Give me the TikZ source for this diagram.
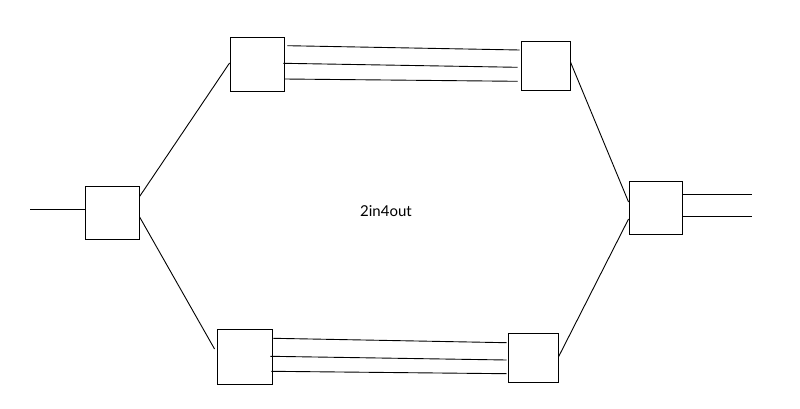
\documentclass[tikz,border=0pt]{standalone}
\usepackage{fontspec}
\setmainfont{Lato}
\begin{document}
\begin{tikzpicture}[x=1pt,y=1pt,
  blk/.style={draw=black,line width=0.9pt,fill=white,inner sep=0pt},
  wire/.style={draw=black,line width=0.9pt}]
\useasboundingbox (0,0) rectangle (800,408);
\node[blk,minimum width=54pt,minimum height=53pt] (L) at (112,195.5) {};
\node[blk,minimum width=54pt,minimum height=54pt] (tl) at (257,344) {};
\node[blk,minimum width=49pt,minimum height=49pt] (tr) at (545.5,342.5) {};
\node[blk,minimum width=55pt,minimum height=55pt] (bl) at (244.5,51.5) {};
\node[blk,minimum width=50pt,minimum height=49pt] (br) at (533,50.5) {};
\node[blk,minimum width=53pt,minimum height=53pt] (R) at (655.5,200.5) {};
\node[font=\fontsize{15}{17}\selectfont] (lbl) at (386,197) {2in4out};
\coordinate (in) at (30,199);
\coordinate (out1) at (752,214);
\coordinate (out2) at (752,191.3);
% input / outputs
\draw[wire] (in) -- ([yshift=3.5pt]L.west);
\draw[wire] ([yshift=13.5pt]R.east) -- (out1);
\draw[wire] ([yshift=-9.2pt]R.east) -- (out2);
% diagonals
\draw[wire] ([yshift=15.8pt]L.east) -- ([yshift=1pt]tl.west);
\draw[wire] ([yshift=-4.2pt]L.east) -- ([xshift=-2pt,yshift=7.5pt]bl.west);
\draw[wire] ([yshift=3.5pt]tr.east) -- ([yshift=5.5pt]R.west);
\draw[wire] ([yshift=0.5pt]br.east) -- ([yshift=-11.5pt]R.west);
% top bundle
\draw[wire] ([xshift=3pt,yshift=18.3pt]tl.east) -- ([xshift=-1pt,yshift=15.5pt]tr.west);
\draw[wire] ([xshift=-1pt,yshift=0.7pt]tl.east) -- ([xshift=-3pt,yshift=-1.8pt]tr.west);
\draw[wire] ([yshift=-15pt]tl.east) -- ([xshift=-3pt,yshift=-15.8pt]tr.west);
% bottom bundle
\draw[wire] ([xshift=1pt,yshift=18.2pt]bl.east) -- ([xshift=-1pt,yshift=14.8pt]br.west);
\draw[wire] ([xshift=-2pt,yshift=0.2pt]bl.east) -- ([xshift=-1pt,yshift=-2.5pt]br.west);
\draw[wire] ([xshift=-1pt,yshift=-14.8pt]bl.east) -- ([xshift=-1pt,yshift=-16.2pt]br.west);
\end{tikzpicture}
\end{document}
